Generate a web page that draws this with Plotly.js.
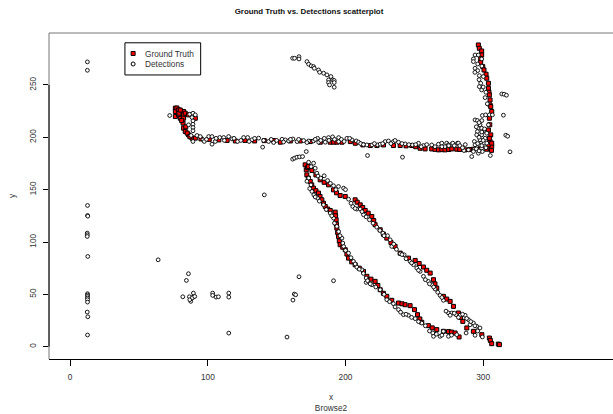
<!DOCTYPE html>
<html><head><meta charset="utf-8">
<script src="https://cdn.plot.ly/plotly-3.0.1.min.js"></script>
<style>html,body{margin:0;padding:0;background:#fff}</style></head>
<body><div id="chart" style="width:613px;height:414px"></div>
<script>
const seriesNames = ["Ground Truth", "Detections"];
const xTicks = [0, 100, 200, 300];
const yTicks = [0, 50, 100, 150, 200, 250];

const gtHook = [[76.4,227.8],[76.4,224.6],[76.4,219.8],[77.5,228],[78.8,226.2],[78.8,221.4],[80,218.2],[82.4,224.6],[82.4,221.4],[83.6,223],[86,221.4],[90.9,218.2],[82.4,218.2],[82,213.5],[82.4,208.7],[83.6,205.5],[86,202.3],[88.5,199.2],[90.9,199.2],[79,223],[81,216],[84,210],[85,204],[87,200.5],[80,226]];
const gtHoriz = [[95,198.5],[101,198],[108,197.5],[114,197],[120,196.5],[127,197],[134,196.5],[141,196.8],[147.8,196.9],[152.7,195.3],[159.9,196.5],[167.2,196.5],[174.4,195.9],[181.7,195.3],[188.9,195.3],[191.4,195.3],[193.8,195.3],[197.4,195.3],[203.5,195.9],[207.1,194.3],[212.6,192.7],[218,192.1],[222.8,192.1],[227.6,192.7],[234.8,192.1],[239.7,192.1],[244,191.8],[248.1,192.1],[251,191],[254.2,189.5],[257.8,188.9],[262.6,188.9],[265,188.5],[267.5,188],[270,188.2],[272.3,188],[275,188.3],[277.2,188.9],[280.8,188.6],[283,188.4],[286.8,188],[290,188.3],[292.9,188.6],[297.7,188.6],[302.6,188.6]];
const gtVert = [[296.5,288.2],[297.2,285],[298.9,282.4],[298.9,278.6],[298.2,275],[298.2,271.6],[299.7,267.5],[300.6,264.3],[302.1,260.2],[302.6,256.4],[303.8,251.6],[303.8,246.8],[304.2,243],[304.5,240.5],[305,235.7],[305,230.9],[305.5,229.3],[306.2,224.6],[304.5,218.2],[304.8,212],[303.8,207],[305.5,202.3],[305,196],[305,189.6],[306.2,191.2],[303.8,192.8],[306.2,194.4],[306,187.5],[304.5,199]];
const gtLower = [[170.7,173.7],[171.5,168.9],[171.9,164.1],[172.5,171],[173,161],[174.4,157.8],[175.5,154.5],[176.8,151.4],[178.5,149],[180.4,146.7],[181.5,143.5],[182.8,140.3],[184,137],[185.3,133.9],[187,131.5],[188.9,130.1],[192.5,128.5],[192.8,125],[193.2,121.2],[193.4,117],[193.7,113.3],[194.3,109],[194.9,105.3],[195.5,101],[196.1,97.4],[198,95],[199.8,92.6],[201,88.5],[202.2,84.6],[204.5,81],[207,78.3],[210,75],[213.1,71.9],[215.5,67.2],[218.5,64.5],[221.5,62.4],[223.5,58.5],[225.2,54.4],[227.5,51],[230,48.1],[233.6,44.3],[238.5,41.7],[241,41],[243.3,40.1],[246.9,39.2],[250.1,35.4],[252.3,30.6],[254,26.5],[255.4,23.3],[260.2,20.1],[263,18],[266.3,16.3],[271.1,14.7],[274.8,14.4],[277,14],[279.6,13.1],[282.5,9.3]];
const gtUpper = [[173,172],[175.6,168.3],[178.5,164],[181.6,159.4],[184.5,157],[187.7,154.6],[191.3,149.8],[193.5,147],[196.1,144.4],[199.8,143.5],[207,140.3],[208.5,138],[210.7,135.5],[212.5,133],[214.3,130.1],[216.5,127.5],[219.1,124.4],[220.5,120.5],[221.5,116.5],[225.2,111.7],[227.5,107.5],[230,103.7],[233,99.5],[236,95.8],[239.7,89.4],[245.7,84.6],[250.6,82.4],[253.5,79.5],[256.6,76.1],[259,73],[261.5,70.3],[263.9,64],[265,60],[266.3,56],[271.1,48.1],[273.5,45.5],[276,43.3],[278.4,38.5],[282,32.2],[283.5,28],[285.2,24.2],[288.1,17.9],[292.9,14.7],[299,11.5],[304.5,8.3],[305.2,6],[306.2,2.9],[311,2.5],[311.8,2]];

const detHook = [[72.3,220.8],[86.8,222],[89.2,223],[90.9,221.4],[88.5,218.9],[89.2,215.7],[89.2,212.5],[89.2,209.3],[89.2,206.2],[86,211.9],[87.8,201.7],[89.2,196],[92.1,201.7],[94.5,200.7],[96.5,197.6],[97.4,196],[100.6,200.7],[103,200.7],[103,193.4],[105.4,196],[108.6,199.8],[111.5,199.8],[115.1,200.7],[117.5,198.5],[121.6,196],[126,199.8],[128.9,199.8],[132,197.6],[136.9,199.2],[140.5,197],[139.8,190.6],[144.1,196]];
const detHoriz = [[147.8,195],[153.9,198.1],[156.3,197.5],[158.7,196.5],[161.8,198.4],[164.8,195.9],[169.6,196.9],[173.2,196.5],[176.8,196.5],[179.7,199],[180.5,195.3],[185.3,195.3],[184.6,199],[187.7,199.7],[190.6,200.4],[195,199.7],[195,195.9],[201,199],[204.7,197.5],[207.8,196.5],[209.5,195.3],[215.5,192.7],[219.2,192.7],[223.3,192.7],[225.2,193.4],[228.8,195.9],[231.2,196.5],[234.8,195.9],[238.5,195.3],[243.3,193.7],[248.6,192.7],[253,194.3],[256.6,192.1],[262.6,192.7],[267.5,193.4],[272.3,191.1],[277.2,193.4],[281.3,194.3],[269.9,194.4],[273.5,194.4],[274.7,192.8],[277.9,194.4],[282,194.4],[286,187.4],[289.3,188],[99,198],[106,199],[112,197],[119,199],[124,197],[130,196],[134,199],[146,198],[150,197],[155,195.5],[160,198],[166,198],[172,195],[178,198],[182,197],[188,197],[192,198],[197,198],[199,196],[203,199],[211,194],[213,193],[221,194],[227,194],[233,194],[236,197],[241,194],[246,193],[251,193],[255,191],[259,193],[265,191],[270,191],[275,192],[279,192],[283,192],[285,190],[287,193]];
const detVert = [[294.1,278.6],[292.9,274.8],[292.9,272.3],[296.5,278.6],[298.9,274.8],[294.1,265.9],[296,263.7],[297.2,258.9],[300.1,258],[298.2,251.6],[297.2,248.4],[298.9,245.2],[301.4,237.9],[294.1,216.6],[295.8,216],[299.4,220.8],[301.8,221.4],[304.5,221.4],[306.7,221.4],[303.8,211.9],[297.7,211.9],[296.5,208.7],[298.9,208.7],[295.8,205.5],[300.1,205.5],[302.6,203.9],[295.3,202.3],[298.9,202.3],[301.4,199.1],[297.7,197.6],[293.6,196],[297.2,192.8],[300.6,194.4],[294.1,192.8],[293.6,188.6],[298.9,189.6],[302.6,194.4],[292.9,186.4],[296.5,184.8],[299.4,186.4],[291.7,181.6],[305.2,182.6],[299,268],[296,270],[294,262],[297,255],[300,248],[302,243],[303,232],[299,216],[297,214],[295,210],[299,205],[301,208],[297,200],[300,197],[296,194],[299,192],[302,190],[295,189],[297,187]];
const detUpper = [[173.2,176.2],[176.8,175.3],[178,170.5],[179.2,165.7],[184.5,163.2],[187,158.7],[191.3,153.7],[194.9,153],[198.6,151.4],[202.2,140.9],[205.3,133.9],[208.2,131.4],[210.7,131.4],[213.1,126],[217.4,121.2],[222.7,114.2],[227.1,108.5],[230.5,106],[232.4,102.1],[233.6,95.8],[239.7,88.8],[242.6,87.8],[246.9,81.5],[249.4,78.3],[251.8,75.1],[254.2,71.9],[256.6,67.2],[260.2,62.4],[262.7,59.2],[265.1,55.1],[268.7,49],[271.1,44.3],[274.8,32.2],[277.2,32.2],[280.3,30.6],[283.2,30],[286.9,30],[289.3,25.8],[290.5,21],[292.9,22.6],[295.3,19.5],[297.7,17.9],[299.4,9.3],[294.1,10.9],[287.6,13.1],[175,172],[180,163],[182,161],[189,156],[193,150],[200,150],[204,137],[207,132],[212,129],[215,124],[220,118],[225,111],[228,106],[235,98],[237,93],[241,88],[244,84],[248,80],[253,73],[258,64],[261,60],[264,57],[267,52],[270,47],[273,34],[276,30],[279,32],[282,28],[285,31],[288,27],[291,24],[294,20],[296,15]];
const detLower = [[173.2,161],[174.9,154.6],[175.6,148.3],[179.7,141.9],[184,135.5],[188.9,127.6],[191.3,122.8],[193.7,114.9],[197.4,103.7],[198.6,95.8],[202.2,89.4],[205.8,81.5],[208.2,76.1],[211.9,73.5],[215,65.6],[215,61.4],[219.1,59.2],[225.2,54.4],[230,44.9],[234.8,41.1],[238.5,35.4],[242.1,30.6],[245.7,30],[250.6,26.8],[255.4,22.6],[263.4,13.1],[263.9,9.9],[268.7,9.9],[271.1,14.7],[274.8,9.9],[280.8,11.5],[172,158],[174,151],[177,145],[178,143],[181,139],[186,131],[190,125],[192,118],[195,110],[196,106],[198,99],[200,92],[204,85],[207,79],[210,74],[213,70],[216,63],[218,60],[222,57],[228,50],[232,43],[236,38],[240,33],[244,31],[248,28],[253,24],[258,20],[261,15],[266,12],[270,11],[277,11]];
const detArc = [[161.6,275.5],[163,275.5],[166.2,277],[166.2,274.8],[172,272.3],[173.2,269.8],[175.1,268.2],[176.8,267.5],[177.3,265.9],[180.4,264.3],[181.2,262.1],[184.1,261.2],[186.5,259.6],[189.4,258],[190.8,254.8],[191.8,254.2],[187.7,254.8],[187.7,252.3],[188.4,250],[191.8,252.3],[191.8,247.8]];
const detSparse = [[12.5,272],[12.5,264],[12.6,134.9],[12.6,125.3],[12.8,124.7],[12.4,108.5],[12.4,106.9],[12.4,105.3],[12.8,86.2],[12.6,50.6],[12.6,49.3],[12.6,48],[12.6,46.4],[12.6,44.9],[12.6,42.6],[12.4,33.1],[12.8,28.6],[12.6,11.2],[63.9,83],[85.9,69.7],[84.4,63.3],[81.8,47.7],[86.6,47.7],[87.6,43.3],[86.9,44.9],[89.5,51.2],[89.5,47.4],[88.8,46.8],[90.5,48],[103.5,51.2],[103.5,49],[106,47.4],[107.7,47.7],[115.2,51.2],[115.2,47.4],[115.2,13],[141,145],[157.5,9.2],[161.8,44.5],[162.8,50.3],[163.8,49.6],[166.2,66.8],[191.3,63],[161.6,179.1],[163,180.1],[164.7,181],[166.6,181.3],[168.8,181.6],[171.5,186.4],[216,182.6],[241.4,181],[319.5,186.1],[314.7,221.1],[316.4,202],[317.8,201],[313.5,241.4],[315.2,241.1],[316.9,240.2]];

const groundTruth = [].concat(gtHook, gtHoriz, gtVert, gtLower, gtUpper);
const detections = [].concat(detHook, detHoriz, detVert, detUpper, detLower, detArc, detSparse);
const xs = a => a.map(p => p[0]);
const ys = a => a.map(p => p[1]);

const traces = [
  {type:"scatter", mode:"markers", name:seriesNames[0], x:xs(groundTruth), y:ys(groundTruth),
   marker:{symbol:"square", size:4, color:"#ff0000", line:{color:"#000", width:1}}},
  {type:"scatter", mode:"markers", name:seriesNames[1], x:xs(detections), y:ys(detections),
   marker:{symbol:"circle", size:3.8, color:"#ffffff", line:{color:"#000", width:0.9}}}
];

const W=613,H=414,L=48.5,T=33,B=359.3;
const px = v => (v-L)/(W-L);
const py = v => (B-v)/(B-T);
const font = {family:"Liberation Sans, Arial, sans-serif", size:8.3, color:"#333"};

const layout = {
  width:W, height:H, showlegend:false, paper_bgcolor:"#fff", plot_bgcolor:"#fff",
  margin:{l:L, r:0, t:T, b:H-B, pad:0},
  title:{text:"<b>Ground Truth vs. Detections scatterplot</b>", x:309/W, xanchor:"center", y:1-11/H, yanchor:"middle",
         font:{family:"Liberation Sans, Arial, sans-serif", size:7.9, color:"#111"}},
  font:font,
  xaxis:{range:[-15.38,394.3], tickvals:xTicks, ticks:"outside", ticklen:5.5, tickwidth:1, tickcolor:"#000", ticklabelstandoff:5,
         showgrid:false, zeroline:false, showline:true, linecolor:"#000", linewidth:1, tickfont:font,
         title:{text:"x<br>Browse2", font:font, standoff:12}},
  yaxis:{range:[-11.74,299.6], tickvals:yTicks, ticks:"outside", ticklen:5.5, tickwidth:1, tickcolor:"#000", tickangle:-90, ticklabelstandoff:3,
         showgrid:false, zeroline:false, showline:false, tickfont:font,
         title:{text:"y", font:font, standoff:11}},
  shapes:[
    {type:"line", xref:"paper", yref:"paper", x0:0, x1:1, y0:1, y1:1, line:{color:"#777", width:1}},
    {type:"line", xref:"paper", yref:"paper", x0:0, x1:0, y0:0, y1:1, line:{color:"#777", width:1}},
    {type:"line", xref:"paper", yref:"y", x0:0, x1:0, y0:yTicks[0], y1:yTicks[yTicks.length-1], line:{color:"#000", width:1}},
    {type:"rect", xref:"paper", yref:"paper", x0:px(124.5), x1:px(200.3), y0:py(75), y1:py(42.8), line:{color:"#000", width:1}, fillcolor:"#fff", layer:"above"},
    {type:"rect", xref:"paper", yref:"paper", x0:px(130.7), x1:px(134.7), y0:py(55.5), y1:py(51.5), line:{color:"#000", width:1}, fillcolor:"#ff0000", layer:"above"},
    {type:"circle", xref:"paper", yref:"paper", x0:px(130.7), x1:px(134.7), y0:py(66), y1:py(62), line:{color:"#000", width:1}, fillcolor:"#fff", layer:"above"}
  ],
  annotations:[
    {text:seriesNames[0], xref:"paper", yref:"paper", x:px(143.7), y:py(53.8), xanchor:"left", yanchor:"middle", showarrow:false, font:font, borderpad:0},
    {text:seriesNames[1], xref:"paper", yref:"paper", x:px(143.7), y:py(64), xanchor:"left", yanchor:"middle", showarrow:false, font:font, borderpad:0}
  ]
};
Plotly.newPlot("chart", traces, layout, {displayModeBar:false, staticPlot:true});
</script></body></html>
